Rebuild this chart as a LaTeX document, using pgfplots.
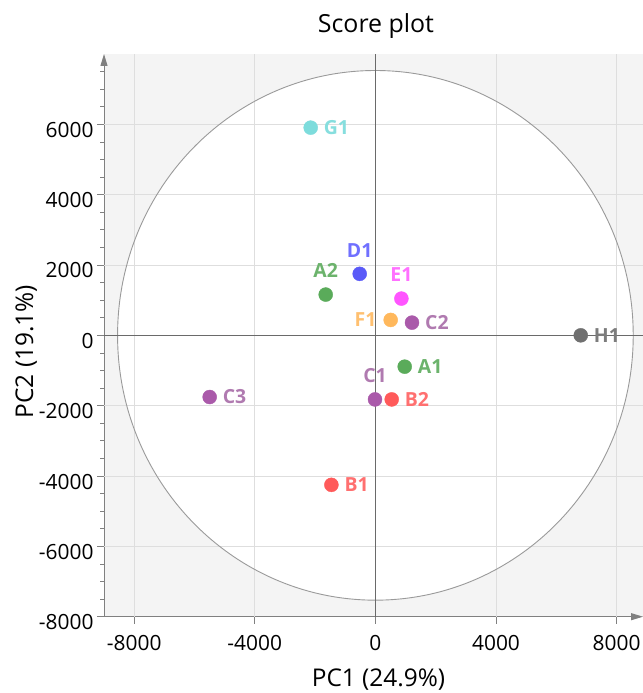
\documentclass[border=0pt]{standalone}
\usepackage{fontspec}
\setmainfont{Open Sans}
\usepackage{pgfplots}
\pgfplotsset{compat=1.18}
\usetikzlibrary{arrows.meta}
\definecolor{bggray}{HTML}{F4F4F4}
\definecolor{gridgray}{HTML}{DEDEDE}
\definecolor{axgray}{HTML}{808080}
\definecolor{zerogray}{HTML}{6A6A6A}
\definecolor{circgray}{HTML}{9A9A9A}
\definecolor{cG}{HTML}{7DDCDC}\definecolor{lG}{HTML}{86DEDE}
\definecolor{cD}{HTML}{5A5AF8}\definecolor{lD}{HTML}{7070FF}
\definecolor{cA}{HTML}{5AAB5A}\definecolor{lA}{HTML}{6CB36C}
\definecolor{cE}{HTML}{FF55FF}\definecolor{lE}{HTML}{FF70FF}
\definecolor{cF}{HTML}{FFB85C}\definecolor{lF}{HTML}{FFC070}
\definecolor{cC}{HTML}{AA5AAA}\definecolor{lC}{HTML}{B07AB0}
\definecolor{cH}{HTML}{707070}\definecolor{lH}{HTML}{7C7C7C}
\definecolor{cB}{HTML}{FF5A5A}\definecolor{lB}{HTML}{FF7070}
\pgfplotsset{
  pt/.style 2 args={only marks, mark=*, mark size=7bp, color=#1,
    mark options={draw=#1, fill=#1, line width=0.4bp},
    nodes near coords, point meta=explicit symbolic,
    nodes near coords style={font=\fontsize{19.5}{22}\selectfont\bfseries, text=#2, inner sep=0pt}},
  R/.style={nodes near coords style={anchor=west, xshift=13bp, yshift=0bp}},
  L/.style={nodes near coords style={anchor=east, xshift=-14bp, yshift=0bp}},
  U/.style={nodes near coords style={anchor=south, xshift=0bp, yshift=16.5bp}},
}
\begin{document}
\begin{tikzpicture}[x=1bp,y=1bp]
\useasboundingbox (0,0) rectangle (643,693);
\begin{axis}[
  at={(104bp,76.3bp)}, anchor=south west,
  scale only axis, width=539bp, height=562.7bp,
  xmin=-9000, xmax=8875, ymin=-8000, ymax=8000,
  enlargelimits=false, clip=false,
  axis background/.style={fill=bggray},
  axis x line=bottom, axis y line=left,
  x axis line style={draw=axgray, line width=1bp, -{Triangle[length=12bp,width=7bp]}},
  y axis line style={draw=axgray, line width=1bp, -{Triangle[length=12bp,width=7bp]}},
  xtick={-8000,-4000,0,4000,8000},
  ytick={-8000,-6000,-4000,-2000,0,2000,4000,6000},
  minor ytick={-7500,-7000,-6500,-5500,-5000,-4500,-3500,-3000,-2500,-1500,-1000,-500,500,1000,1500,2500,3000,3500,4500,5000,5500,6500,7000,7500},
  tick align=outside,
  major tick length=7bp, minor tick length=4bp,
  tick style={draw=axgray, line width=0.8bp},
  /pgf/number format/assume math mode=true,
  /pgf/number format/1000 sep={},
  ticklabel style={font=\fontsize{21}{25}\selectfont, text=black},
  xticklabel style={yshift=-8bp},
  yticklabel style={anchor=east, yshift=-5.5bp},
]
\fill[white] (axis cs:0,0) ellipse [x radius=8550, y radius=7530];
\foreach \gx in {-8000,-4000,4000,8000}{
  \edef\tmp{\noexpand\draw[gridgray, line width=0.8bp] (axis cs:\gx,-8000) -- (axis cs:\gx,8000);}\tmp}
\foreach \gy in {-6000,-4000,-2000,2000,4000,6000}{
  \edef\tmp{\noexpand\draw[gridgray, line width=0.8bp] (axis cs:-9000,\gy) -- (axis cs:8875,\gy);}\tmp}
\draw[circgray, line width=0.9bp] (axis cs:0,0) ellipse [x radius=8550, y radius=7530];
\addplot[pt={cG}{lG}, R] coordinates {(-2146,5905) [G1]};
\addplot[pt={cD}{lD}, U] coordinates {(-521,1748) [D1]};
\addplot[pt={cA}{lA}, U] coordinates {(-1648,1159) [A2]};
\addplot[pt={cE}{lE}, U] coordinates {(862,1045) [E1]};
\addplot[pt={cF}{lF}, L] coordinates {(507,438) [F1]};
\addplot[pt={cC}{lC}, R] coordinates {(1214,362) [C2]};
\addplot[pt={cH}{lH}, R] coordinates {(6810,0) [H1]};
\addplot[pt={cA}{lA}, R] coordinates {(972,-891) [A1]};
\addplot[pt={cC}{lC}, U] coordinates {(-13,-1822) [C1]};
\addplot[pt={cB}{lB}, R] coordinates {(541,-1822) [B2]};
\addplot[pt={cC}{lC}, R] coordinates {(-5496,-1754) [C3]};
\addplot[pt={cB}{lB}, R] coordinates {(-1459,-4251) [B1]};
\draw[zerogray, line width=1.2bp] (axis cs:0,-8000) -- (axis cs:0,8000);
\draw[zerogray, line width=1.2bp] (axis cs:-9000,0) -- (axis cs:8875,0);
\end{axis}
\node[font=\fontsize{25}{30}\selectfont, anchor=base] at (376,660) {Score plot};
\node[font=\fontsize{24.5}{30}\selectfont, anchor=base] at (378.5,6) {PC1 (24.9\%)};
\node[font=\fontsize{24.5}{30}\selectfont, anchor=base, rotate=90] at (33,341.5) {PC2 (19.1\%)};
\end{tikzpicture}
\end{document}
